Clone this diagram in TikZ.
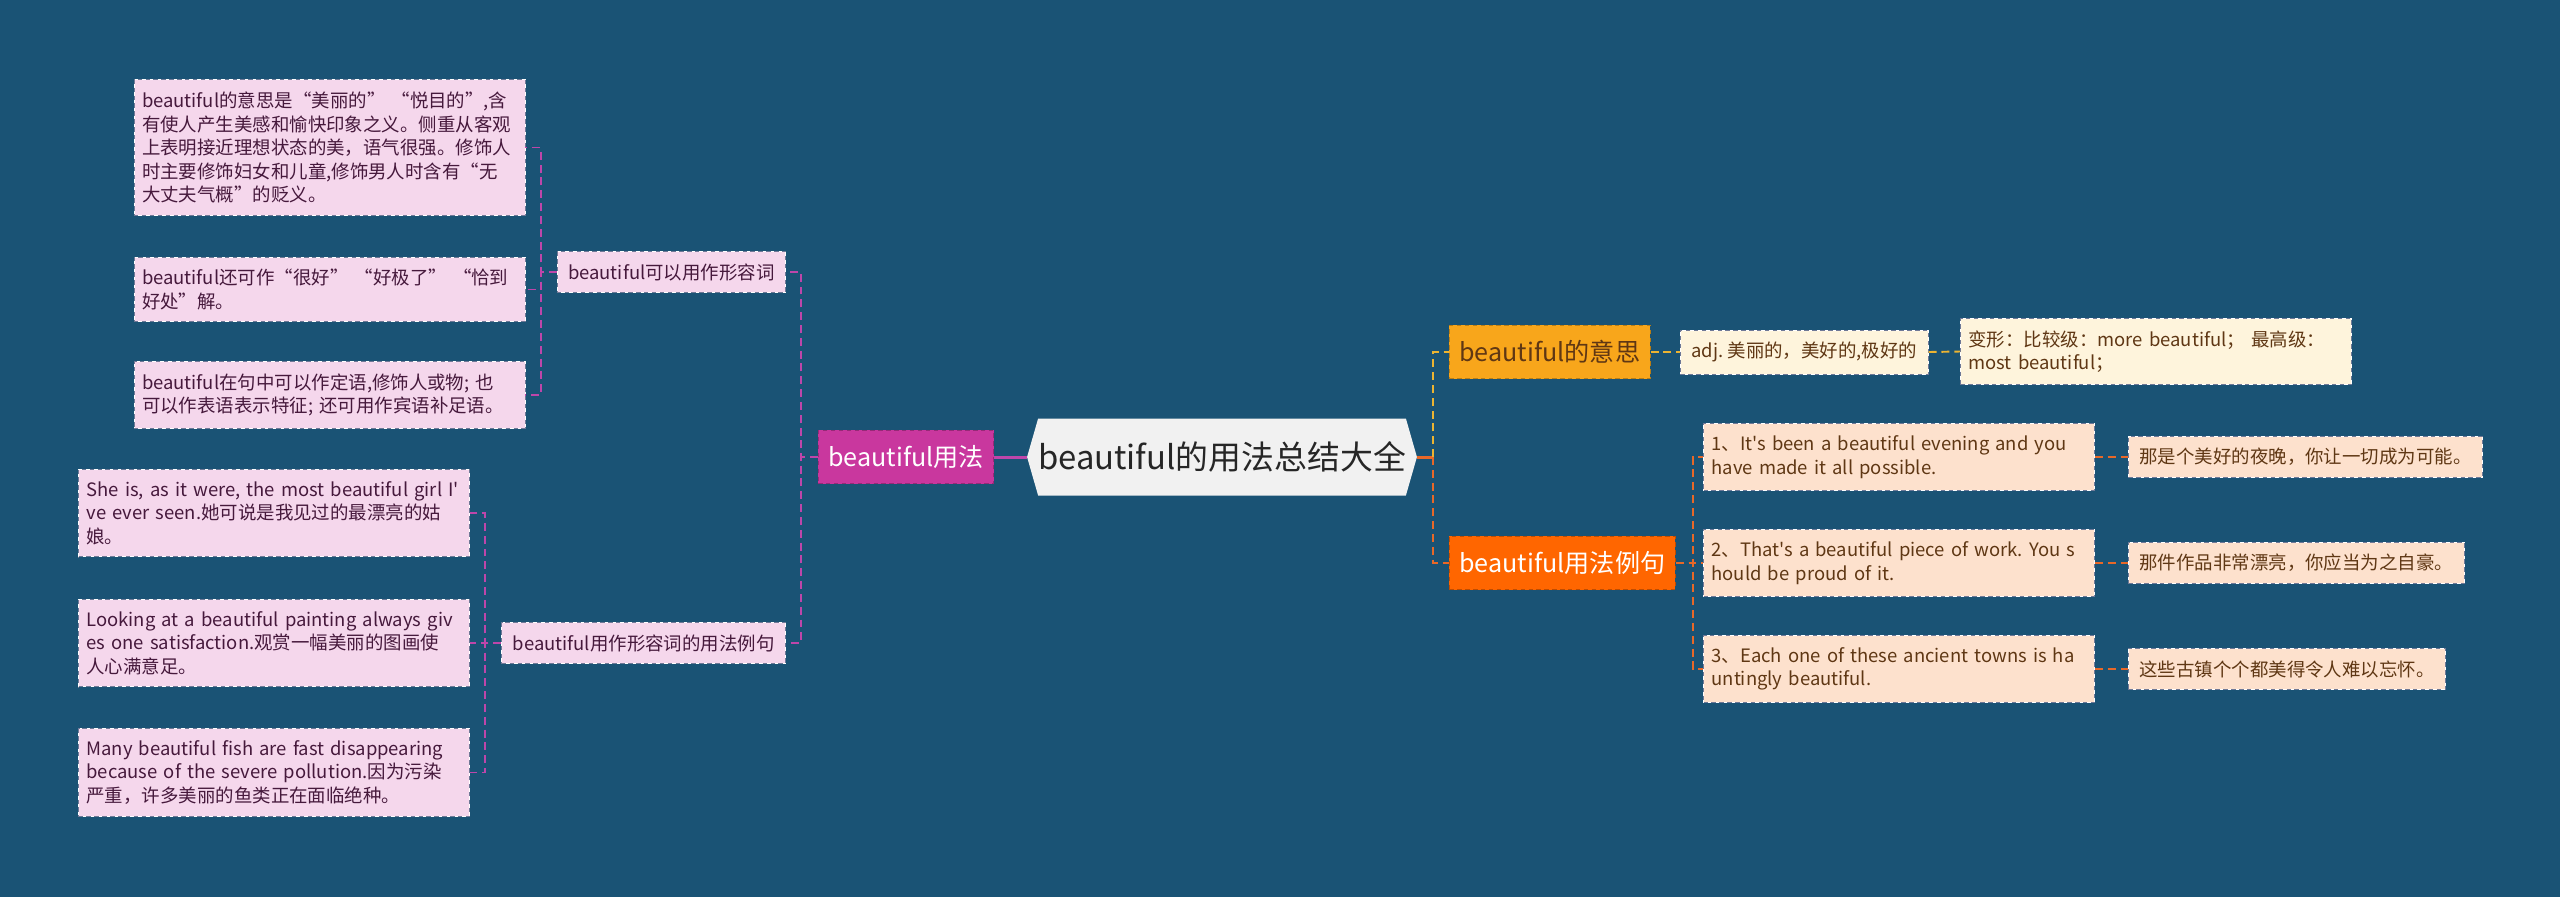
\documentclass[tikz,border=0pt]{standalone}
\usepackage{fontspec}
\setmainfont{Noto Sans CJK SC}[Ligatures=TeXOff]
\usepackage{tikz}
\usetikzlibrary{shapes.symbols, positioning}
%% colores
\definecolor{fondo}{RGB}{26,83,117}
\definecolor{rosa}{RGB}{245,215,236}
\definecolor{magenta}{RGB}{201,55,158}
\definecolor{lmag}{RGB}{190,70,170}
\definecolor{amarillo}{RGB}{248,166,27}
\definecolor{lama}{RGB}{236,180,50}
\definecolor{naranja}{RGB}{255,102,0}
\definecolor{lnar}{RGB}{232,104,40}
\definecolor{crema}{RGB}{254,244,220}
\definecolor{melocoton}{RGB}{253,225,205}
\definecolor{gris}{RGB}{241,241,241}
\definecolor{borde}{RGB}{110,120,150}
\definecolor{tmorado}{RGB}{70,25,60}
\definecolor{tmarron}{RGB}{95,55,20}
\newcommand\chica{\fontsize{10.5pt}{13.4pt}\selectfont\frenchspacing}
\newcommand\media{\fontsize{14.3pt}{17pt}\selectfont}
\newcommand\grande{\fontsize{18.7pt}{22pt}\selectfont}

\begin{document}
\begin{tikzpicture}[x=0.02cm, y=-0.02cm,
  %% hojas con borde discontinuo
  hoja/.style={
    rectangle, fill=#1, draw=white, line width=0.5pt,
    postaction={draw=borde, dash pattern=on 2.5pt off 2pt, line width=0.5pt},
    font=\chica, text width=7.5cm, align=left,
    inner xsep=0.16cm, inner ysep=0.24cm
  },
  rama/.style={
    rectangle, fill=rosa, draw=white, line width=0.5pt,
    postaction={draw=borde, dash pattern=on 2.5pt off 2pt, line width=0.5pt},
    font=\chica, text=tmorado, inner xsep=0.22cm, inner ysep=0.24cm
  },
  corta/.style={
    rectangle, fill=#1, draw=white, line width=0.5pt,
    postaction={draw=borde, dash pattern=on 2.5pt off 2pt, line width=0.5pt},
    font=\chica, text=tmarron, inner xsep=0.22cm, inner ysep=0.24cm
  },
  %% primer nivel
  hijo/.style={
    rectangle, fill=#1, draw=#1!75!black,
    dash pattern=on 2.5pt off 2pt, line width=0.5pt,
    font=\media, inner xsep=0.2cm, inner ysep=0.3cm
  },
  raiz/.style={
    signal, signal to=west and east, signal pointer angle=148,
    fill=gris, text={black!85}, font=\grande,
    minimum width=7.6cm, minimum height=1.54cm, inner xsep=0cm
  },
  solido/.style={draw=#1, line width=1.7pt},
  enlace/.style={draw=#1, line width=1.1pt, dash pattern=on 4.5pt off 2.8pt}
]

%% fondo
\fill[fondo] (0,0) rectangle (2560,897);

%% ── Raíz ───────────────────────────────────────────────
\node[raiz] (root) at (1222,457) {beautiful的用法总结大全};

%% ── Rama izquierda ─────────────────────────────────────
\node[hijo=magenta, text=white] (yf) at (906,457) {beautiful用法};

\node[rama, anchor=east] (m1) at (786,272) {beautiful可以用作形容词};
\node[rama, anchor=east] (m2) at (786,643) {beautiful用作形容词的用法例句};

\node[hoja=rosa, text=tmorado] (h1) at (329.5,147.5)
  {beautiful的意思是“美丽的” “悦目的”,含\\
   有使人产生美感和愉快印象之义。侧重从客观\\
   上表明接近理想状态的美，语气很强。修饰人\\
   时主要修饰妇女和儿童,修饰男人时含有“无\\
   大丈夫气概”的贬义。};
\node[hoja=rosa, text=tmorado] (h2) at (329.5,289.5)
  {beautiful还可作“很好” “好极了” “恰到\\
   好处”解。};
\node[hoja=rosa, text=tmorado] (h3) at (329.5,395)
  {beautiful在句中可以作定语,修饰人或物; 也\\
   可以作表语表示特征; 还可用作宾语补足语。};

\node[hoja=rosa, text=tmorado] (h4) at (274,513)
  {She is, as it were, the most beautiful girl I'\\
   ve ever seen.她可说是我见过的最漂亮的姑\\
   娘。};
\node[hoja=rosa, text=tmorado] (h5) at (274,643)
  {Looking at a beautiful painting always giv\\
   es one satisfaction.观赏一幅美丽的图画使\\
   人心满意足。};
\node[hoja=rosa, text=tmorado] (h6) at (274,772.5)
  {Many beautiful fish are fast disappearing\\
   because of the severe pollution.因为污染\\
   严重，许多美丽的鱼类正在面临绝种。};

%% ── Rama derecha ───────────────────────────────────────
\node[hijo=amarillo, text=tmarron, anchor=west] (ys) at (1449,352)
  {beautiful的意思};
\node[corta=crema, anchor=west] (adj) at (1680,352)
  {adj. 美丽的，美好的,极好的};
\node[hoja=crema, text=tmarron, anchor=west] (bx) at (1960,351.5)
  {变形：比较级：more beautiful； 最高级：\\
   most beautiful；};

\node[hijo=naranja, text=white, anchor=west] (lj) at (1449,563)
  {beautiful用法例句};

\node[hoja=melocoton, text=tmarron] (e1) at (1899,457)
  {1、It's been a beautiful evening and you\\
   have made it all possible.};
\node[hoja=melocoton, text=tmarron] (e2) at (1899,563)
  {2、That's a beautiful piece of work. You s\\
   hould be proud of it.};
\node[hoja=melocoton, text=tmarron] (e3) at (1899,669)
  {3、Each one of these ancient towns is ha\\
   untingly beautiful.};

\node[corta=melocoton, anchor=west] (t1) at (2128,457)
  {那是个美好的夜晚，你让一切成为可能。};
\node[corta=melocoton, anchor=west] (t2) at (2128,563)
  {那件作品非常漂亮，你应当为之自豪。};
\node[corta=melocoton, anchor=west] (t3) at (2128,669)
  {这些古镇个个都美得令人难以忘怀。};

%% ────────────────── CONECTORES ─────────────────────────

%% Raíz ↔ beautiful用法
\draw[solido=lmag] (root.west) -- (yf.east);
\draw[enlace=lmag] (yf.west) -- ++(-17,0) |- (m1.east);
\draw[enlace=lmag] (yf.west) -- ++(-17,0) |- (m2.east);

\foreach \hj in {h1,h2,h3}
  \draw[enlace=lmag] (m1.west) -- ++(-16,0) |- (\hj.east);
\foreach \hj in {h4,h5,h6}
  \draw[enlace=lmag] (m2.west) -- ++(-16,0) |- (\hj.east);

%% Raíz ↔ rama derecha
\coordinate (bd) at ([xshift=0.32cm]root.east);
\draw[solido=lnar] (root.east) -- (bd);
\draw[enlace=lama] (bd) |- (ys.west);
\draw[enlace=lnar] (bd) |- (lj.west);

\draw[enlace=lama] (ys.east) -- (adj.west);
\draw[enlace=lama] (adj.east) -- (bx.west);

\foreach \ej in {e1,e2,e3}
  \draw[enlace=lnar] (lj.east) -- ++(17,0) |- (\ej.west);
\foreach \n in {1,2,3}
  \draw[enlace=lnar] (e\n.east) -- (t\n.west);

\end{tikzpicture}
\end{document}
